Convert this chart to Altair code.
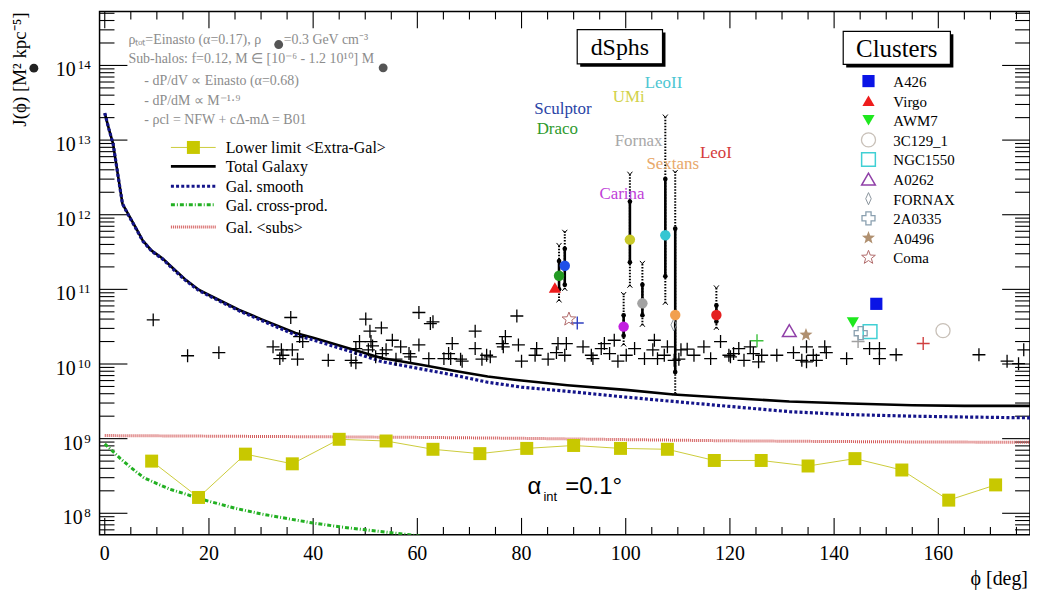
import math
import altair as alt
import pandas as pd

# ---------------------------------------------------------------- data
TOT_PHI = [0.0, 0.8, 1.6, 2.5, 3.4, 4.5, 6.0, 7.3, 9.0, 11.1, 13.0, 15.6, 18.1, 20.0, 25.8, 30.0,
           36.6, 40.0, 46.8, 53.1, 60.7, 67.0, 73.5, 80.0, 88.8, 100.0, 109.2, 120.0, 131.4,
           143.0, 155.0, 165.0, 177.6]
TOT_J = [2.3e13, 1.4e13, 8.9e12, 3.5e12, 1.4e12, 1.02e12, 6.6e11, 4.5e11, 3.3e11, 2.6e11, 1.95e11,
         1.33e11, 9.8e10, 8.4e10, 5.3e10, 4.0e10, 2.6e10, 2.25e10, 1.63e10, 1.2e10, 9.8e9, 8.1e9,
         6.8e9, 6.0e9, 5.2e9, 4.5e9, 3.9e9, 3.5e9, 3.15e9, 2.95e9, 2.8e9, 2.75e9, 2.75e9]
SMOOTH_J = [2.3e13, 1.4e13, 8.9e12, 3.5e12, 1.4e12, 1.0e12, 6.5e11, 4.45e11, 3.25e11, 2.55e11,
            1.9e11, 1.3e11, 9.6e10, 8.2e10, 5.15e10, 3.85e10, 2.45e10, 2.1e10, 1.5e10, 1.08e10,
            8.6e9, 7.1e9, 5.7e9, 4.9e9, 4.3e9, 3.6e9, 3.15e9, 2.7e9, 2.3e9, 2.1e9, 2.0e9, 1.95e9,
            1.9e9]
SUBS_PHI = [0, 20, 40, 60, 80, 100, 120, 140, 160, 177.6]
SUBS_J = [1.1e9, 1.08e9, 1.06e9, 1.04e9, 1.01e9, 9.7e8, 9.35e8, 9.15e8, 9.0e8, 8.95e8]
XPROD_PHI = [0, 1.5, 3, 5, 7.5, 10, 12.5, 15, 17.5, 20, 25, 30, 35, 40, 45, 50, 55, 60, 63]
XPROD_J = [8.5e8, 6.8e8, 5.4e8, 4.1e8, 3.0e8, 2.5e8, 2.1e8, 1.86e8, 1.62e8, 1.45e8, 1.17e8,
           9.8e7, 8.5e7, 7.4e7, 6.6e7, 6.0e7, 5.5e7, 5.0e7, 4.7e7]
LL_PHI = [9, 18, 27, 36, 45, 54, 63, 72, 81, 90, 99, 108, 117, 126, 135, 144, 153, 162, 171]
LL_J = [5.0e8, 1.63e8, 6.2e8, 4.6e8, 9.8e8, 9.3e8, 7.2e8, 6.3e8, 7.4e8, 8.1e8, 7.4e8, 7.2e8,
        5.1e8, 5.1e8, 4.3e8, 5.4e8, 3.8e8, 1.5e8, 2.4e8]

GAL_PHI = [9.3, 15.9, 21.9, 35.7, 32.3, 33.9, 33.6, 34.2, 36.0, 37.0, 37.4, 38.0, 42.9, 47.3,
           48.2, 50.1, 50.9, 53.1, 48.9, 48.2, 51.1, 51.4, 50.6, 55.2, 54.0, 56.8, 52.0, 55.9,
           58.7, 60.3, 62.5, 60.3, 62.2, 53.3, 58.4, 63.0, 79.1, 71.1, 76.9, 76.3, 79.4, 66.7,
           71.1, 66.0, 66.4, 68.3, 68.6, 73.3, 72.4, 74.0, 76.5, 80.0, 82.9, 82.6, 85.1, 87.0,
           88.6, 86.7, 88.3, 91.8, 93.4, 93.7, 95.3, 95.9, 96.9, 98.5, 100.1, 97.8, 101.7, 103.6,
           105.5, 105.2, 106.1, 108.0, 107.4, 110.2, 110.6, 111.8, 113.1, 115.0, 116.3, 118.2,
           119.8, 109.3, 65.1, 120.1, 121.7, 122.7, 123.9, 124.5, 125.5, 126.1, 129.0, 132.2,
           133.8, 134.7, 134.7, 136.0, 136.6, 138.2, 138.5, 142.4, 146.8, 148.7, 148.7, 151.9,
           167.8, 173.2, 175.4, 176.4, 120.7]
GAL_J = [3.9e10, 1.29e10, 1.42e10, 4.2e10, 1.7e10, 1.55e10, 1.18e10, 1.31e10, 1.55e10, 1.16e10,
         2.33e10, 2.0e10, 1.12e10, 1.12e10, 1.04e10, 4.0e10, 2.75e10, 3.05e10, 2.0e10, 1.61e10,
         2.0e10, 1.75e10, 1.55e10, 2.08e10, 1.55e10, 1.7e10, 1.25e10, 1.16e10, 1.25e10, 4.9e10,
         3.48e10, 1.8e10, 1.18e10, 1.38e10, 1.38e10, 3.68e10, 4.4e10, 2.75e10, 2.33e10, 1.88e10,
         1.8e10, 1.88e10, 1.61e10, 1.38e10, 1.18e10, 1.16e10, 1.09e10, 1.31e10, 1.16e10, 1.25e10,
         1.7e10, 1.09e10, 1.61e10, 1.31e10, 1.16e10, 1.88e10, 1.88e10, 1.42e10, 1.31e10, 1.7e10,
         1.31e10, 1.18e10, 1.61e10, 1.88e10, 1.38e10, 1.09e10, 1.31e10, 2.08e10, 1.61e10, 1.18e10,
         2.08e10, 1.55e10, 1.18e10, 1.7e10, 1.31e10, 1.16e10, 1.55e10, 1.58e10, 1.31e10, 1.7e10,
         1.18e10, 2.0e10, 1.31e10, 1.12e10, 1.18e10, 1.25e10, 1.61e10, 1.12e10, 1.7e10, 1.38e10,
         1.07e10, 1.31e10, 1.31e10, 1.42e10, 1.12e10, 1.7e10, 1.07e10, 1.31e10, 1.12e10, 1.7e10,
         1.42e10, 1.18e10, 1.61e10, 1.61e10, 1.18e10, 1.33e10, 1.33e10, 1.09e10, 1.01e10, 1.55e10,
         1.38e10]

COLX_PHI = [90.7, 125.2, 144.6, 157.1]
COLX_J = [3.55e10, 2.05e10, 2.0e10, 1.88e10]
COLX_COLOR = ["#2f3fc0", "#3cc03c", "#a0a0a0", "#d04040"]

DSPH_NAMES = ["Sculptor", "Draco", "UMi", "LeoII", "Fornax", "Sextans", "Carina", "LeoI"]
DSPH_PHI = [88.3, 87.2, 100.8, 107.6, 103.2, 109.5, 99.6, 117.4]
DSPH_J = [2.07e11, 1.52e11, 4.64e11, 5.3e11, 6.5e10, 4.54e10, 3.17e10, 4.54e10]
DSPH_LO1 = [1.15e11, 1.0e11, 2.3e11, 1.5e11, 4.5e10, 7.8e9, 2.4e10, 3.7e10]
DSPH_HI1 = [3.5e11, 2.4e11, 1.5e12, 3.0e12, 1.15e11, 6.5e11, 4.5e10, 6.1e10]
DSPH_LO2 = [1.0e11, 7.0e10, 1.1e11, 6.5e10, 3.3e10, 4.0e9, 1.8e10, 3.0e10]
DSPH_HI2 = [6.0e11, 4.0e11, 3.6e12, 2.1e13, 2.3e11, 3.8e12, 8.8e10, 1.08e11]
DSPH_COLOR = ["#1f4fe8", "#239a23", "#c8c828", "#35c6d2", "#a2a2a2", "#f2a04e", "#c21ee0", "#e42020"]
DSPH_LABEL_COLOR = ["#2a44a6", "#2e9a2e", "#d2d24a", "#4cc6d2", "#a8a8a8", "#e8a86a", "#c040d8", "#d43a3a"]

CLUSTER_NAMES = ["A426", "Virgo", "AWM7", "3C129_1", "NGC1550", "A0262", "FORNAX", "2A0335", "A0496", "Coma"]
CLUSTER_PHI = [148.1, 86.4, 143.6, 160.9, 146.9, 131.4, 109.2, 145.1, 134.6, 89.1]
CLUSTER_J = [6.4e10, 1.06e11, 3.6e10, 2.8e10, 2.72e10, 2.8e10, 3.34e10, 2.59e10, 2.46e10, 3.98e10]

X_LABELS = [0, 20, 40, 60, 80, 100, 120, 140, 160]
Y_EXPONENTS = [8, 9, 10, 11, 12, 13, 14]

# ---------------------------------------------------------------- layout / style
W, H = 935, 526
PHI_MIN, PHI_MAX = -1.0, 177.6
J_MIN, J_MAX = 10 ** 7.711, 10 ** 14.724
SERIF = "Liberation Serif"


def star_path(r_in=0.42):
    pts = []
    for k in range(10):
        r = 1.0 if k % 2 == 0 else r_in
        a = math.radians(-90 + 36 * k)
        pts.append(f"{r * math.cos(a):.3f},{r * math.sin(a):.3f}")
    return "M" + "L".join(pts) + "Z"


PLUS = "M-1,0L1,0M0,-1L0,1"
STAR = star_path()
THIN_DIAMOND = "M0,-1L0.45,0L0,1L-0.45,0Z"

# shape, color, filled, size, strokeWidth
CLUSTER_STYLE = [
    ("square", "#0a14e6", True, 150, 1),
    ("triangle-up", "#ee1c1c", True, 150, 1),
    ("triangle-down", "#1ee81e", True, 150, 1),
    ("circle", "#c8c0b8", False, 200, 1.3),
    ("square", "#40d0d4", False, 190, 1.5),
    ("triangle-up", "#9040a8", False, 190, 1.5),
    (THIN_DIAMOND, "#8a949c", False, 150, 1.0),
    ("cross", "#8aa0b0", False, 170, 1.3),
    (STAR, "#b09070", True, 190, 1),
    (STAR, "#b06a6a", False, 210, 1.0),
]

xs = alt.Scale(domain=[PHI_MIN, PHI_MAX], nice=False, zero=False)
ys = alt.Scale(type="log", domain=[J_MIN, J_MAX], nice=False)


def X(f="phi"):
    return alt.X(f"{f}:Q", scale=xs, axis=None)


def Y(f="J"):
    return alt.Y(f"{f}:Q", scale=ys, axis=None)


dummy = pd.DataFrame({"a": [0]})
layers = []

# ---------------------------------------------------------------- ticks (ROOT style, inward)
x_major = pd.DataFrame({"phi": X_LABELS})
x_minor = pd.DataFrame({"phi": [v for v in range(0, 178, 5) if v % 20]})
y_major = pd.DataFrame({"J": [10.0 ** n for n in Y_EXPONENTS]})
y_minor = pd.DataFrame({"J": [k * 10.0 ** n for n in range(7, 15) for k in range(2, 10)
                              if J_MIN <= k * 10.0 ** n <= J_MAX]})
for df, ln in ((x_major, 17), (x_minor, 8)):
    layers.append(alt.Chart(df).mark_rule(color="black", strokeWidth=1.1).encode(
        x=X(), y=alt.value(H), y2=alt.value(H - ln)))
    layers.append(alt.Chart(df).mark_rule(color="black", strokeWidth=1.1).encode(
        x=X(), y=alt.value(0), y2=alt.value(ln)))
for df, ln in ((y_major, 28), (y_minor, 15)):
    layers.append(alt.Chart(df).mark_rule(color="black", strokeWidth=1.1).encode(
        y=Y(), x=alt.value(0), x2=alt.value(ln)))
    layers.append(alt.Chart(df).mark_rule(color="black", strokeWidth=1.1).encode(
        y=Y(), x=alt.value(W), x2=alt.value(W - ln)))

# ---------------------------------------------------------------- curves
tot = pd.DataFrame({"phi": TOT_PHI, "J": TOT_J})
smooth = pd.DataFrame({"phi": TOT_PHI, "J": SMOOTH_J})
subs = pd.DataFrame({"phi": SUBS_PHI, "J": SUBS_J})
xprod = pd.DataFrame({"phi": XPROD_PHI, "J": XPROD_J})
ll = pd.DataFrame({"phi": LL_PHI, "J": LL_J})

SUBS_STYLE = dict(color="#d35a5a", strokeWidth=3, strokeDash=[1, 1])
SMOOTH_STYLE = dict(color="#14148a", strokeWidth=3.2, strokeDash=[3, 2.2])
XPROD_STYLE = dict(color="#22b022", strokeWidth=3, strokeDash=[4, 2, 1, 2])

layers.append(alt.Chart(subs).mark_line(clip=True, **SUBS_STYLE).encode(x=X(), y=Y()))
layers.append(alt.Chart(xprod).mark_line(clip=True, **XPROD_STYLE).encode(x=X(), y=Y()))
layers.append(alt.Chart(ll).mark_line(color="#cccc3a", strokeWidth=1).encode(x=X(), y=Y()))
layers.append(alt.Chart(ll).mark_point(shape="square", filled=True, color="#c8c800", size=170, opacity=1)
              .encode(x=X(), y=Y()))
layers.append(alt.Chart(tot).mark_line(color="black", strokeWidth=2.6).encode(x=X(), y=Y()))
layers.append(alt.Chart(smooth).mark_line(**SMOOTH_STYLE).encode(x=X(), y=Y()))

# ---------------------------------------------------------------- black crosses
gal = pd.DataFrame({"phi": GAL_PHI, "J": GAL_J})
layers.append(alt.Chart(gal).mark_point(shape=PLUS, size=169, color="black", strokeWidth=1.3, opacity=1)
              .encode(x=X(), y=Y()))
for p, j, c in zip(COLX_PHI, COLX_J, COLX_COLOR):
    layers.append(alt.Chart(pd.DataFrame({"phi": [p], "J": [j]}))
                  .mark_point(shape=PLUS, size=169, color=c, strokeWidth=1.4, opacity=1)
                  .encode(x=X(), y=Y()))

# ---------------------------------------------------------------- dSph error bars and points
dsph = pd.DataFrame({"name": DSPH_NAMES, "phi": DSPH_PHI, "J": DSPH_J, "lo1": DSPH_LO1,
                     "hi1": DSPH_HI1, "lo2": DSPH_LO2, "hi2": DSPH_HI2})
layers.append(alt.Chart(dsph).mark_rule(color="black", strokeWidth=2, strokeDash=[1.5, 1.5])
              .encode(x=X(), y=Y("lo2"), y2=alt.Y2("hi2:Q")))
layers.append(alt.Chart(dsph).mark_rule(color="black", strokeWidth=2.6)
              .encode(x=X(), y=Y("lo1"), y2=alt.Y2("hi1:Q")))
for end in ("lo1", "hi1"):
    layers.append(alt.Chart(dsph).mark_point(shape="circle", filled=True, color="black", size=22, opacity=1)
                  .encode(x=X(), y=Y(end)))
layers.append(alt.Chart(dsph).mark_point(shape="M-1,-0.6L0,0.6L1,-0.6", size=25, color="black",
                                         strokeWidth=1, opacity=1).encode(x=X(), y=Y("hi2")))
layers.append(alt.Chart(dsph).mark_point(shape="M-1,0.6L0,-0.6L1,0.6", size=25, color="black",
                                         strokeWidth=1, opacity=1).encode(x=X(), y=Y("lo2")))

# ---------------------------------------------------------------- clusters
for i, name in enumerate(CLUSTER_NAMES):
    shape, color, filled, size, sw = CLUSTER_STYLE[i]
    kw = dict(shape=shape, size=size, opacity=1, strokeWidth=sw, filled=filled, color=color)
    layers.append(alt.Chart(pd.DataFrame({"phi": [CLUSTER_PHI[i]], "J": [CLUSTER_J[i]]}))
                  .mark_point(**kw).encode(x=X(), y=Y()))
    # legend entry
    ly = 70 + 19.7 * i
    layers.append(alt.Chart(dummy).mark_point(**kw).encode(x=alt.value(772.7), y=alt.value(ly)))
    layers.append(alt.Chart(dummy).mark_text(text=name, font=SERIF, fontSize=15, align="left",
                                             baseline="middle", color="black")
                  .encode(x=alt.value(797.7), y=alt.value(ly + 1)))

for i, c in enumerate(DSPH_COLOR):
    layers.append(alt.Chart(dsph.iloc[[i]]).mark_point(shape="circle", filled=True, color=c, size=110,
                                                        opacity=1).encode(x=X(), y=Y()))

# dSph names
DSPH_LABEL_POS = [(465.7, 98), (460, 118), (531.7, 86), (566.7, 71.7), (541.7, 130),
                  (576, 153.3), (525, 183.3), (619.3, 142.3)]
for name, col, (px, py) in zip(DSPH_NAMES, DSPH_LABEL_COLOR, DSPH_LABEL_POS):
    layers.append(alt.Chart(dummy).mark_text(text=name, font=SERIF, fontSize=17, align="center",
                                             baseline="middle", color=col)
                  .encode(x=alt.value(px), y=alt.value(py)))


# ---------------------------------------------------------------- boxes
def shadow_box(x0, y0, x1, y1, label, fs):
    return [
        alt.Chart(dummy).mark_rect(color="black").encode(
            x=alt.value(x0 + 3), x2=alt.value(x1 + 3), y=alt.value(y0 + 3), y2=alt.value(y1 + 3)),
        alt.Chart(dummy).mark_rect(fill="white", stroke="black", strokeWidth=1.2).encode(
            x=alt.value(x0), x2=alt.value(x1), y=alt.value(y0), y2=alt.value(y1)),
        alt.Chart(dummy).mark_text(text=label, font=SERIF, fontSize=fs, align="center",
                                   baseline="middle", color="black").encode(
            x=alt.value((x0 + x1) / 2), y=alt.value((y0 + y1) / 2 + 1)),
    ]


layers += shadow_box(480, 18.3, 565.7, 52.7, "dSphs", 24)
layers += shadow_box(747.3, 20, 855, 53.3, "Clusters", 25)

# ---------------------------------------------------------------- left legend
leg_y = [136.7, 155.7, 175.7, 194.3, 216.7]
leg_txt = ["Lower limit <Extra-Gal>", "Total Galaxy", "Gal. smooth", "Gal. cross-prod.", "Gal. <subs>"]
leg_style = [
    dict(color="#cccc3a", strokeWidth=1),
    dict(color="black", strokeWidth=2.6),
    SMOOTH_STYLE,
    XPROD_STYLE,
    SUBS_STYLE,
]
for yv, t, st in zip(leg_y, leg_txt, leg_style):
    layers.append(alt.Chart(dummy).mark_rule(**st).encode(
        x=alt.value(71.7), x2=alt.value(116.7), y=alt.value(yv)))
    layers.append(alt.Chart(dummy).mark_text(text=t, font=SERIF, fontSize=16, align="left",
                                             baseline="middle", color="black")
                  .encode(x=alt.value(126.7), y=alt.value(yv + 1)))
layers.append(alt.Chart(dummy).mark_point(shape="square", filled=True, color="#c8c800", size=170, opacity=1)
              .encode(x=alt.value(94.3), y=alt.value(leg_y[0])))

# ---------------------------------------------------------------- model annotation (grey)
GREY = "#8c8c8c"
ann = [
    (29, 29, "ρₜₒₜ=Einasto (α=0.17), ρ"),
    (185, 29, "=0.3 GeV cm⁻³"),
    (29, 48, "Sub-halos: f=0.12, M ∈ [10⁻⁶ - 1.2 10¹⁰] M"),
    (45, 70, "- dP/dV ∝ Einasto (α=0.68)"),
    (45, 90, "- dP/dM ∝ M⁻¹·⁹"),
    (45, 109, "- ρcl = NFW + cΔ-mΔ = B01"),
]
for px, py, t in ann:
    layers.append(alt.Chart(dummy).mark_text(text=t, font=SERIF, fontSize=14, align="left",
                                             baseline="middle", color=GREY)
                  .encode(x=alt.value(px), y=alt.value(py)))
for px, py in ((180, 33.3), (285, 56.7)):
    layers.append(alt.Chart(dummy).mark_point(shape="circle", filled=True, color="#555555", size=80, opacity=1)
                  .encode(x=alt.value(px), y=alt.value(py)))

# alpha_int
NARROW = "Liberation Sans Narrow, Liberation Sans"
layers.append(alt.Chart(dummy).mark_text(text="α", font=NARROW, fontSize=24,
                                         align="center", baseline="middle", color="black")
              .encode(x=alt.value(437), y=alt.value(478)))
layers.append(alt.Chart(dummy).mark_text(text="int", font=NARROW, fontSize=13,
                                         align="left", baseline="middle", color="black")
              .encode(x=alt.value(446), y=alt.value(488)))
layers.append(alt.Chart(dummy).mark_text(text="=0.1°", font=NARROW, fontSize=24,
                                         align="left", baseline="middle", color="black")
              .encode(x=alt.value(468), y=alt.value(478)))

# ---------------------------------------------------------------- axis labels and titles
xl = pd.DataFrame({"phi": X_LABELS, "t": [str(v) for v in X_LABELS]})
layers.append(alt.Chart(xl).mark_text(font=SERIF, fontSize=20, align="center", baseline="middle",
                                      color="black")
              .encode(x=X(), y=alt.value(H + 19), text="t:N"))
for n in Y_EXPONENTS:
    e = str(n)
    d = pd.DataFrame({"J": [10.0 ** n]})
    layers.append(alt.Chart(d).mark_text(text=e, font=SERIF, fontSize=13, align="right", baseline="middle",
                                         color="black").encode(x=alt.value(-9), y=Y()))
    layers.append(alt.Chart(d).mark_text(text="10", font=SERIF, fontSize=20, align="right",
                                         baseline="middle", dy=5, color="black")
                  .encode(x=alt.value(-9 - 7 * len(e) - 1), y=Y()))

layers.append(alt.Chart(dummy).mark_text(text="J(ϕ) [M² kpc⁻⁵]", font=SERIF, fontSize=19, angle=270,
                                         align="right", baseline="middle", color="black")
              .encode(x=alt.value(-80), y=alt.value(1)))
layers.append(alt.Chart(dummy).mark_point(shape="circle", filled=True, color="#222222", size=80, opacity=1)
              .encode(x=alt.value(-66), y=alt.value(57)))
layers.append(alt.Chart(dummy).mark_text(text="ϕ [deg]", font=SERIF, fontSize=20, align="right",
                                         baseline="middle", color="black")
              .encode(x=alt.value(W - 2), y=alt.value(H + 44)))

chart = alt.layer(*layers).properties(
    width=W, height=H,
    autosize=alt.AutoSizeParams(type="none"),
    padding={"left": 92, "top": 2, "right": 0, "bottom": 57},
).configure_view(stroke="black", strokeWidth=1.5)

chart.save("out.html", embed_options={"renderer": "svg", "actions": False})
